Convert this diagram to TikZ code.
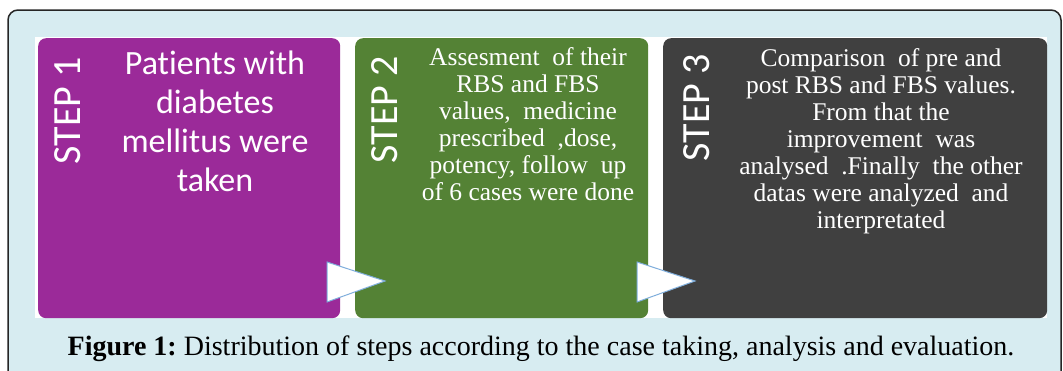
\documentclass[tikz,border=0pt]{standalone}
\usepackage{fontspec}
\setmainfont{Liberation Serif}
\newfontfamily\stepfont[Ligatures=NoCommon]{Carlito}
\usepackage{tikz}
\usetikzlibrary{positioning,calc}
\usepackage{xcolor}
\definecolor{panelbg}{HTML}{D7ECF1}
\definecolor{stepone}{HTML}{9B2A99}
\definecolor{steptwo}{HTML}{548235}
\definecolor{stepthree}{HTML}{404040}
\definecolor{arrowedge}{HTML}{7FAEDC}
\tikzset{
  stepbox/.style   = {rounded corners=8pt, inner sep=0pt, anchor=north west},
  steplabel/.style = {text=white, rotate=90, inner sep=0pt,
                      font=\stepfont\fontsize{40}{44}\selectfont},
  stepinfo/.style  = {text=white, align=center, inner sep=0pt, anchor=north,
                      font=\fontsize{25.5}{27}\selectfont},
  flowarrow/.style = {fill=white, draw=arrowedge, line width=1pt, line join=miter},
}

\begin{document}
\begin{tikzpicture}[x=1pt,y=1pt]
\useasboundingbox (0,0) rectangle (1063,-370);
\clip (0,0) rectangle (1063,-370);
% outer panel
\draw[fill=panelbg, line width=1.5pt, draw=black!85, rounded corners=10pt] (8,-10) rectangle (1061,-400);
\fill[white] (35,-37) rectangle (1047,-318);
% the three steps
\node[stepbox, fill=stepone, minimum width=302pt, minimum height=280pt] (s1) at (38,-38) {};
\node[stepbox, fill=steptwo, minimum width=293pt, minimum height=280pt] (s2) at (355,-38) {};
\node[stepbox, fill=stepthree, minimum width=384pt, minimum height=280pt] (s3) at (663,-38) {};
\node[steplabel] (l1) at (68,-111) {STEP 1};
\node[steplabel] (l2) at (385,-110) {STEP 2};
\node[steplabel] (l3) at (697,-108) {STEP 3};
\node[stepinfo, font=\stepfont\fontsize{34}{39}\selectfont] (t1) at (215,-51)
  {Patients with\\diabetes\\mellitus were\\taken};
\node[stepinfo] (t2) at (528,-47)
  {Assesment\ \ of their\\RBS and FBS\\values,\ \ medicine\\prescribed\ \ ,dose,\\potency,\ follow\ \ up\\of 6 cases were done};
\node[stepinfo] (t3) at (881,-48)
  {Comparison\ \ of pre and\\post RBS and FBS values.\\From that the\\improvement\ \ was\\analysed\ \ .Finally\ \ the\ other\\datas were analyzed\ \ and\\interpretated};
% arrows between steps
\coordinate (a1) at (327,-262);
\coordinate (a2) at (637,-262);
\draw[flowarrow] (a1) -- ++(0,-40) -- ++(58,21) -- cycle;
\draw[flowarrow] (a2) -- ++(0,-40) -- ++(58,21) -- cycle;
% caption
\node[anchor=base, inner sep=0pt, font=\fontsize{28}{32}\selectfont] (cap) at (541,-355)
  {\textbf{Figure 1:}~Distribution of steps according to the case taking, analysis and evaluation.};
\end{tikzpicture}
\end{document}
